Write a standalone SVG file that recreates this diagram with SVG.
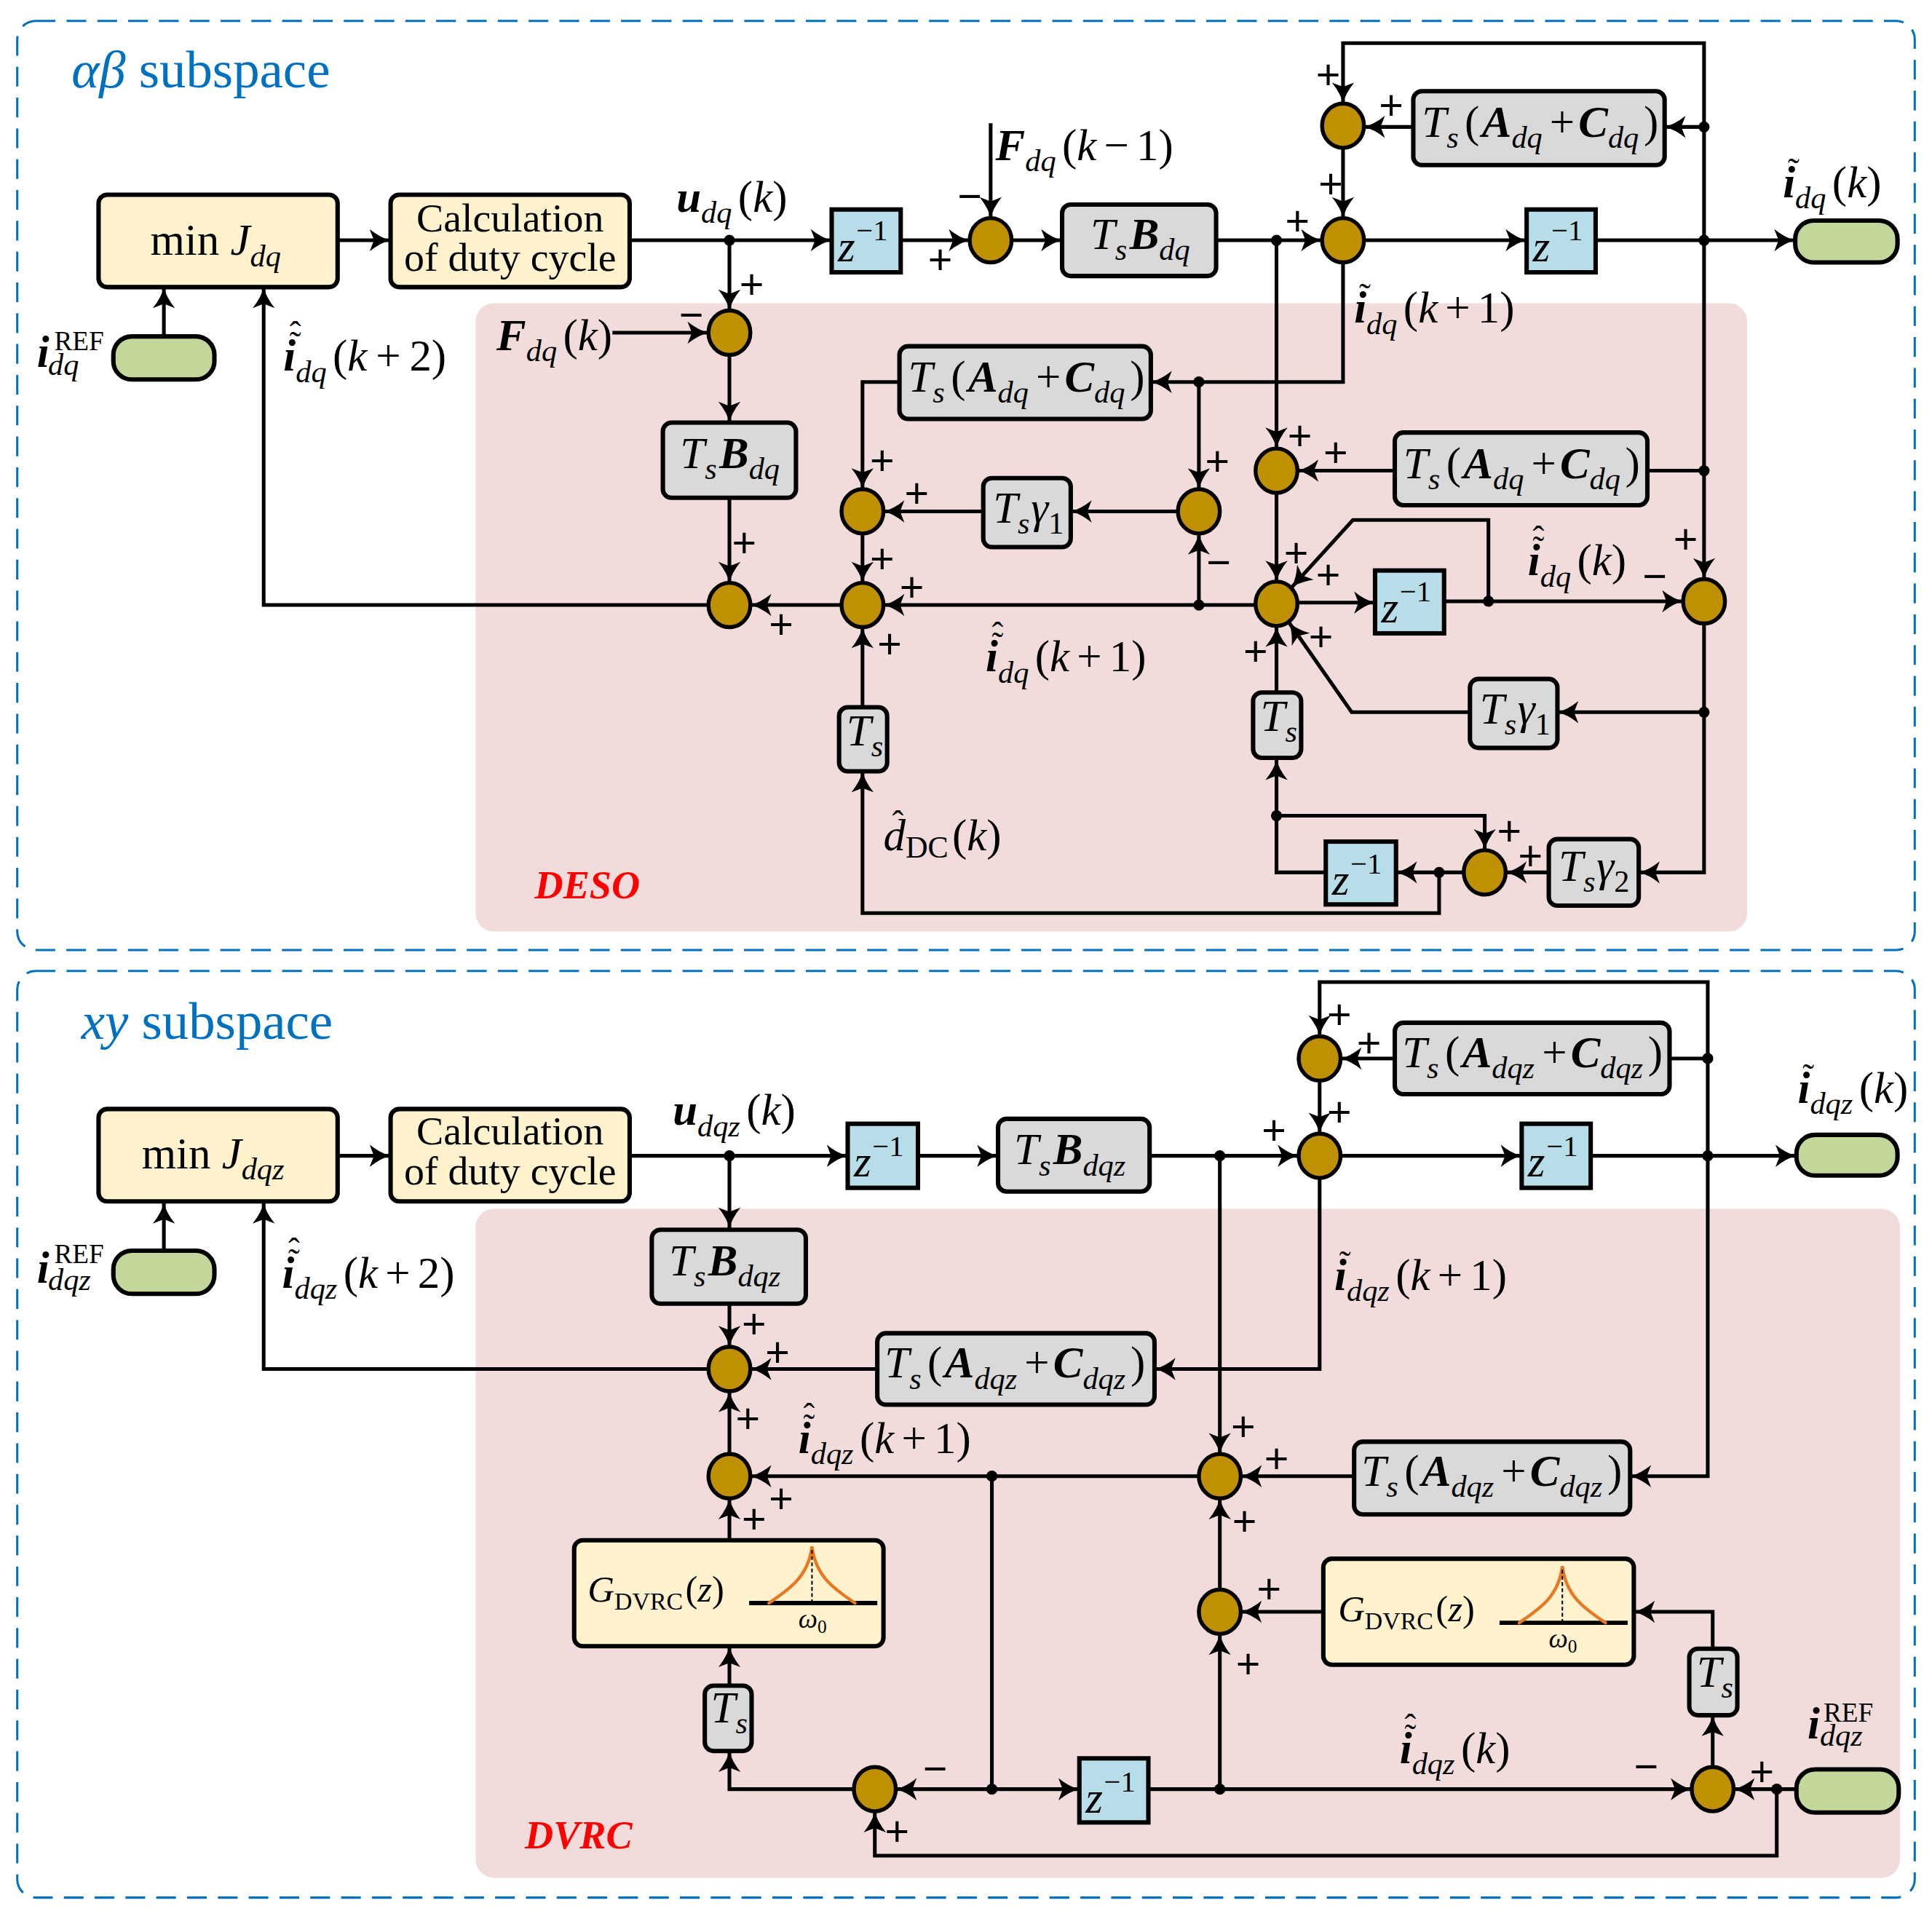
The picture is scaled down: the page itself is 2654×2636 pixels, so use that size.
<svg xmlns="http://www.w3.org/2000/svg" width="2654" height="2636" viewBox="0 0 2654 2636">
<defs>
<style>
text{font-family:"Liberation Serif","Times New Roman",serif;fill:#000}
.m{font-size:36px}
.i{font-style:italic}
.bi{font-style:italic;font-weight:bold}
.s{font-size:25px;font-style:italic}
.su{font-size:25px;font-style:normal}
.sup{font-size:24px;font-style:normal}
.pm{font-size:34px;text-anchor:middle;font-family:"Liberation Sans",Arial,sans-serif}
.acc{font-size:28px;font-style:normal;font-weight:normal}
.ttl{font-size:43px;fill:#0070C0}
.red{font-size:32px;font-style:italic;font-weight:bold;fill:#FF0000}
.g{font-size:30px}
.gs{font-size:20px}
.w{font-size:22px}
.ws{font-size:15px}
.cal{font-size:33px;text-anchor:middle}
.box{stroke:#000;stroke-width:3.6}
.yel{fill:#FFF2CC}
.gry{fill:#D9D9D9}
.blu{fill:#B7DEE8}
.grn{fill:#C4D79B}
.sum{fill:#BF9000;stroke:#000;stroke-width:3.2}
.dash{fill:none;stroke:#0070C0;stroke-width:1.8;stroke-dasharray:16 9}
.pink{fill:#F2DCDB}
#conn path{fill:none;stroke:#000;stroke-width:3}
#conn path.a{marker-end:url(#arr)}
.dot{fill:#000}
.pk{fill:none;stroke:#E87722;stroke-width:2.6;stroke-linecap:round}
</style>
<marker id="arr" markerUnits="userSpaceOnUse" markerWidth="18" markerHeight="18" refX="17" refY="9" orient="auto" overflow="visible">
<path d="M0,0 Q9,7.2 17,9 Q9,10.8 0,18 L3.5,9 Z" fill="#000"/>
</marker>
</defs>
<rect width="2654" height="2636" fill="#fff"/>
<g transform="scale(1.69260)">

<g id="frame-ab">
<rect class="dash" x="14" y="17" width="1540" height="754" rx="15"/>
<text class="ttl" x="58" y="71"><tspan class="i">αβ</tspan> subspace</text>
</g>
<g id="frame-xy">
<rect class="dash" x="14" y="788" width="1540" height="752" rx="15"/>
<text class="ttl" x="66" y="843"><tspan class="i">xy</tspan> subspace</text>
</g>
<g id="deso">
<rect class="pink" x="386" y="246" width="1032" height="510" rx="15"/>
<text class="red" x="434" y="729">DESO</text>
</g>
<g id="dvrc">
<rect class="pink" x="386" y="981" width="1156" height="543" rx="15"/>
<text class="red" x="426" y="1500">DVRC</text>
</g>

<g id="conn">
<path class="a" d="M274,195H317"/>
<path class="a" d="M511,195H675"/>
<path class="a" d="M731,195H787"/>
<path class="a" d="M804,100V177"/>
<path class="a" d="M821,195H862"/>
<path class="a" d="M987,195H1073"/>
<path class="a" d="M1107,195H1239"/>
<path class="a" d="M1295,195H1457"/>
<path class="a" d="M1383,195V35H1090V84"/>
<path class="a" d="M1383,103H1351"/>
<path class="a" d="M1147,103H1107"/>
<path class="a" d="M1090,120V177"/>
<path class="a" d="M1090,213V310H934"/>
<path class="a" d="M1036,195V364"/>
<path class="a" d="M1383,195V470"/>
<path class="a" d="M592,195V252"/>
<path class="a" d="M497,270H575"/>
<path class="a" d="M592,288V343"/>
<path class="a" d="M592,404V473"/>
<path class="a" d="M575,491H214V233"/>
<path class="a" d="M683,491H609"/>
<path class="a" d="M730,310H700V397"/>
<path class="a" d="M798,415H717"/>
<path class="a" d="M956,415H869"/>
<path class="a" d="M973,310V397"/>
<path class="a" d="M973,491V433"/>
<path class="a" d="M700,433V473"/>
<path class="a" d="M1019,491H717"/>
<path class="a" d="M700,574V509"/>
<path class="a" d="M1168,708V741H700V626"/>
<path class="a" d="M1132,382H1053"/>
<path d="M1337,382H1383"/>
<path class="a" d="M1036,400V472"/>
<path class="a" d="M1053,489H1116"/>
<path class="a" d="M1172,488H1366"/>
<path class="a" d="M1208,488V422H1098L1048,477"/>
<path class="a" d="M1383,506V708H1330"/>
<path class="a" d="M1383,578H1264"/>
<path class="a" d="M1193,578H1097L1046,505"/>
<path class="a" d="M1036,562V508"/>
<path class="a" d="M1076,708H1036V616"/>
<path class="a" d="M1036,662H1205V690"/>
<path class="a" d="M1257,708H1222"/>
<path class="a" d="M1188,708H1133"/>
<path class="a" d="M133,273V233"/>

<path class="a" d="M274,938H317"/>
<path class="a" d="M511,938H688"/>
<path class="a" d="M745,938H810"/>
<path class="a" d="M933,938H1054"/>
<path class="a" d="M1088,938H1235"/>
<path class="a" d="M1291,938H1458"/>
<path class="a" d="M1386,938V797H1071V841"/>
<path d="M1355,859H1386"/>
<path class="a" d="M1132,859H1088"/>
<path class="a" d="M1071,877V920"/>
<path class="a" d="M1071,956V1111H937"/>
<path class="a" d="M592,938V997"/>
<path class="a" d="M592,1058V1093"/>
<path class="a" d="M712,1111H609"/>
<path class="a" d="M575,1111H214V976"/>
<path class="a" d="M592,1180V1129"/>
<path class="a" d="M973,1198H609"/>
<path class="a" d="M592,1250V1216"/>
<path class="a" d="M592,1368V1336"/>
<path class="a" d="M693,1452H592V1421"/>
<path class="a" d="M805,1198V1452H727"/>
<path class="a" d="M805,1452H876"/>
<path class="a" d="M932,1452H1373"/>
<path class="a" d="M990,1452V1326"/>
<path class="a" d="M990,1290V1216"/>
<path class="a" d="M990,938V1180"/>
<path class="a" d="M1099,1198H1007"/>
<path class="a" d="M1386,938V1198H1323"/>
<path class="a" d="M1074,1308H1007"/>
<path class="a" d="M1390,1338V1308H1326"/>
<path class="a" d="M1390,1434V1392"/>
<path class="a" d="M1458,1452H1407"/>
<path class="a" d="M1442,1452V1506H710V1470"/>
<path class="a" d="M133,1015V976"/>
</g>

<g id="junctions" class="dot">
<circle cx="592" cy="195" r="4.5"/><circle cx="1036" cy="195" r="4.5"/><circle cx="1383" cy="195" r="4.5"/><circle cx="1383" cy="103" r="4.5"/>
<circle cx="973" cy="310" r="4.5"/><circle cx="973" cy="491" r="4.5"/><circle cx="1383" cy="382" r="4.5"/><circle cx="1208" cy="488" r="4.5"/>
<circle cx="1383" cy="578" r="4.5"/><circle cx="1036" cy="662" r="4.5"/><circle cx="1168" cy="708" r="4.5"/>
<circle cx="592" cy="938" r="4.5"/><circle cx="990" cy="938" r="4.5"/><circle cx="1386" cy="938" r="4.5"/><circle cx="1386" cy="859" r="4.5"/>
<circle cx="805" cy="1198" r="4.5"/><circle cx="805" cy="1452" r="4.5"/><circle cx="990" cy="1452" r="4.5"/><circle cx="1442" cy="1452" r="4.5"/>
</g>

<g id="minJdq"><rect class="box yel" x="80" y="158" width="194" height="75" rx="7"/>
<text class="m" x="122" y="207">min <tspan class="i">J</tspan><tspan class="s" dy="9">dq</tspan></text></g>
<g id="calc1"><rect class="box yel" x="317" y="158" width="194" height="75" rx="7"/>
<text class="cal" x="414" y="188">Calculation</text><text class="cal" x="414" y="220">of duty cycle</text></g>
<g id="irefdq"><rect class="box grn" x="92" y="273" width="82" height="35" rx="15"/>
<text class="m" x="30" y="298"><tspan class="bi">i</tspan><tspan class="su" x="44" y="284" style="font-size:22px">REF</tspan><tspan class="s" x="39" y="304">dq</tspan></text></g>
<g id="z1"><rect class="box blu" x="675" y="170" width="56" height="51"/>
<text class="m" x="680" y="212"><tspan class="i">z</tspan><tspan class="sup" dy="-17" dx="1">−1</tspan></text></g>
<g id="S1"><ellipse class="sum" cx="804" cy="195" rx="17" ry="18"/></g>
<g id="TsBdq1"><rect class="box gry" x="862" y="166" width="125" height="58" rx="7"/>
<text class="m" x="885" y="202"><tspan class="i">T</tspan><tspan class="s" dy="9">s</tspan><tspan class="bi" dy="-9" dx="2">B</tspan><tspan class="s" dy="9">dq</tspan></text></g>
<g id="S2"><ellipse class="sum" cx="1090" cy="195" rx="17" ry="18"/></g>
<g id="S3"><ellipse class="sum" cx="1090" cy="102" rx="17" ry="18"/></g>
<g id="TsAC1"><rect class="box gry" x="1147" y="74" width="204" height="60" rx="7"/>
<text class="m" x="1154" y="111"><tspan class="i">T</tspan><tspan class="s" dy="9">s</tspan><tspan dy="-9" dx="5">(</tspan><tspan class="bi" dx="2">A</tspan><tspan class="s" dy="9">dq</tspan><tspan dy="-9" dx="6">+</tspan><tspan class="bi" dx="3">C</tspan><tspan class="s" dy="9">dq</tspan><tspan dy="-9" dx="4">)</tspan></text></g>
<g id="z2"><rect class="box blu" x="1239" y="170" width="56" height="51"/>
<text class="m" x="1244" y="212"><tspan class="i">z</tspan><tspan class="sup" dy="-17" dx="1">−1</tspan></text></g>
<g id="outdq"><rect class="box grn" x="1457" y="179" width="83" height="34" rx="15"/></g>

<g id="S5"><ellipse class="sum" cx="592" cy="270" rx="17" ry="18"/></g>
<g id="TsBdq2"><rect class="box gry" x="538" y="343" width="108" height="61" rx="7"/>
<text class="m" x="552" y="380"><tspan class="i">T</tspan><tspan class="s" dy="9">s</tspan><tspan class="bi" dy="-9" dx="2">B</tspan><tspan class="s" dy="9">dq</tspan></text></g>
<g id="S6"><ellipse class="sum" cx="592" cy="491" rx="17" ry="18"/></g>
<g id="S7"><ellipse class="sum" cx="700" cy="491" rx="17" ry="18"/></g>
<g id="S8"><ellipse class="sum" cx="700" cy="415" rx="17" ry="18"/></g>
<g id="S9"><ellipse class="sum" cx="973" cy="415" rx="17" ry="18"/></g>
<g id="TsAC2"><rect class="box gry" x="730" y="281" width="204" height="59" rx="7"/>
<text class="m" x="737" y="318"><tspan class="i">T</tspan><tspan class="s" dy="9">s</tspan><tspan dy="-9" dx="5">(</tspan><tspan class="bi" dx="2">A</tspan><tspan class="s" dy="9">dq</tspan><tspan dy="-9" dx="6">+</tspan><tspan class="bi" dx="3">C</tspan><tspan class="s" dy="9">dq</tspan><tspan dy="-9" dx="4">)</tspan></text></g>
<g id="Tsg1a"><rect class="box gry" x="798" y="388" width="71" height="56" rx="7"/>
<text class="m" x="806" y="424"><tspan class="i">T</tspan><tspan class="s" dy="9">s</tspan><tspan class="i" dy="-9" dx="1">γ</tspan><tspan class="su" dy="9">1</tspan></text></g>
<g id="Ts1"><rect class="box gry" x="681" y="574" width="39" height="52" rx="7"/>
<text class="m" x="687" y="605"><tspan class="i">T</tspan><tspan class="s" dy="9">s</tspan></text></g>
<g id="S4"><ellipse class="sum" cx="1036" cy="382" rx="17" ry="18"/></g>
<g id="S10"><ellipse class="sum" cx="1036" cy="490" rx="17" ry="18"/></g>
<g id="S11"><ellipse class="sum" cx="1383" cy="488" rx="17" ry="18"/></g>
<g id="S12"><ellipse class="sum" cx="1205" cy="708" rx="17" ry="18"/></g>
<g id="TsAC3"><rect class="box gry" x="1132" y="351" width="205" height="59" rx="7"/>
<text class="m" x="1139" y="388"><tspan class="i">T</tspan><tspan class="s" dy="9">s</tspan><tspan dy="-9" dx="5">(</tspan><tspan class="bi" dx="2">A</tspan><tspan class="s" dy="9">dq</tspan><tspan dy="-9" dx="6">+</tspan><tspan class="bi" dx="3">C</tspan><tspan class="s" dy="9">dq</tspan><tspan dy="-9" dx="4">)</tspan></text></g>
<g id="z3"><rect class="box blu" x="1116" y="463" width="56" height="51"/>
<text class="m" x="1121" y="505"><tspan class="i">z</tspan><tspan class="sup" dy="-17" dx="1">−1</tspan></text></g>
<g id="Tsg1b"><rect class="box gry" x="1193" y="551" width="71" height="56" rx="7"/>
<text class="m" x="1201" y="587"><tspan class="i">T</tspan><tspan class="s" dy="9">s</tspan><tspan class="i" dy="-9" dx="1">γ</tspan><tspan class="su" dy="9">1</tspan></text></g>
<g id="Ts2"><rect class="box gry" x="1017" y="562" width="39" height="53" rx="7"/>
<text class="m" x="1023" y="593"><tspan class="i">T</tspan><tspan class="s" dy="9">s</tspan></text></g>
<g id="Tsg2"><rect class="box gry" x="1257" y="681" width="73" height="54" rx="7"/>
<text class="m" x="1265" y="715"><tspan class="i">T</tspan><tspan class="s" dy="9">s</tspan><tspan class="i" dy="-9" dx="1">γ</tspan><tspan class="su" dy="9">2</tspan></text></g>
<g id="z4"><rect class="box blu" x="1076" y="683" width="57" height="51"/>
<text class="m" x="1081" y="726"><tspan class="i">z</tspan><tspan class="sup" dy="-17" dx="1">−1</tspan></text></g>

<g id="minJdqz"><rect class="box yel" x="80" y="900" width="194" height="75" rx="7"/>
<text class="m" x="115" y="948">min <tspan class="i">J</tspan><tspan class="s" dy="9">dqz</tspan></text></g>
<g id="calc2"><rect class="box yel" x="317" y="900" width="194" height="75" rx="7"/>
<text class="cal" x="414" y="929">Calculation</text><text class="cal" x="414" y="961">of duty cycle</text></g>
<g id="irefdqz1"><rect class="box grn" x="92" y="1015" width="82" height="35" rx="15"/>
<text class="m" x="30" y="1041"><tspan class="bi">i</tspan><tspan class="su" x="44" y="1025" style="font-size:22px">REF</tspan><tspan class="s" x="39" y="1047">dqz</tspan></text></g>
<g id="z5"><rect class="box blu" x="688" y="912" width="57" height="52"/>
<text class="m" x="693" y="955"><tspan class="i">z</tspan><tspan class="sup" dy="-17" dx="1">−1</tspan></text></g>
<g id="TsBdqz1"><rect class="box gry" x="810" y="908" width="123" height="59" rx="7"/>
<text class="m" x="823" y="945"><tspan class="i">T</tspan><tspan class="s" dy="9">s</tspan><tspan class="bi" dy="-9" dx="2">B</tspan><tspan class="s" dy="9">dqz</tspan></text></g>
<g id="C2"><ellipse class="sum" cx="1071" cy="938" rx="17" ry="18"/></g>
<g id="C1"><ellipse class="sum" cx="1071" cy="859" rx="17" ry="18"/></g>
<g id="TsAC4"><rect class="box gry" x="1132" y="830" width="223" height="58" rx="7"/>
<text class="m" x="1138" y="866"><tspan class="i">T</tspan><tspan class="s" dy="9">s</tspan><tspan dy="-9" dx="5">(</tspan><tspan class="bi" dx="2">A</tspan><tspan class="s" dy="9">dqz</tspan><tspan dy="-9" dx="6">+</tspan><tspan class="bi" dx="3">C</tspan><tspan class="s" dy="9">dqz</tspan><tspan dy="-9" dx="4">)</tspan></text></g>
<g id="z6"><rect class="box blu" x="1235" y="912" width="56" height="52"/>
<text class="m" x="1240" y="955"><tspan class="i">z</tspan><tspan class="sup" dy="-17" dx="1">−1</tspan></text></g>
<g id="outdqz"><rect class="box grn" x="1458" y="921" width="82" height="33" rx="15"/></g>

<g id="TsBdqz2"><rect class="box gry" x="529" y="998" width="125" height="60" rx="7"/>
<text class="m" x="543" y="1035"><tspan class="i">T</tspan><tspan class="s" dy="9">s</tspan><tspan class="bi" dy="-9" dx="2">B</tspan><tspan class="s" dy="9">dqz</tspan></text></g>
<g id="C3"><ellipse class="sum" cx="592" cy="1111" rx="17" ry="18"/></g>
<g id="TsAC5"><rect class="box gry" x="712" y="1082" width="225" height="58" rx="7"/>
<text class="m" x="718" y="1118"><tspan class="i">T</tspan><tspan class="s" dy="9">s</tspan><tspan dy="-9" dx="5">(</tspan><tspan class="bi" dx="2">A</tspan><tspan class="s" dy="9">dqz</tspan><tspan dy="-9" dx="6">+</tspan><tspan class="bi" dx="3">C</tspan><tspan class="s" dy="9">dqz</tspan><tspan dy="-9" dx="4">)</tspan></text></g>
<g id="C4"><ellipse class="sum" cx="592" cy="1198" rx="17" ry="18"/></g>
<g id="C5"><ellipse class="sum" cx="990" cy="1198" rx="17" ry="18"/></g>
<g id="C6"><ellipse class="sum" cx="990" cy="1308" rx="17" ry="18"/></g>
<g id="C7"><ellipse class="sum" cx="710" cy="1452" rx="17" ry="18"/></g>
<g id="C8"><ellipse class="sum" cx="1390" cy="1452" rx="17" ry="18"/></g>
<g id="TsAC6"><rect class="box gry" x="1099" y="1170" width="224" height="59" rx="7"/>
<text class="m" x="1105" y="1206"><tspan class="i">T</tspan><tspan class="s" dy="9">s</tspan><tspan dy="-9" dx="5">(</tspan><tspan class="bi" dx="2">A</tspan><tspan class="s" dy="9">dqz</tspan><tspan dy="-9" dx="6">+</tspan><tspan class="bi" dx="3">C</tspan><tspan class="s" dy="9">dqz</tspan><tspan dy="-9" dx="4">)</tspan></text></g>
<g id="G1"><rect class="box yel" x="466" y="1250" width="251" height="86" rx="7"/>
<text class="g" x="477" y="1300"><tspan class="i">G</tspan><tspan class="gs" dy="6">DVRC</tspan><tspan dy="-6" dx="2">(</tspan><tspan class="i">z</tspan>)</text>
<path d="M608,1301H712" stroke="#000" stroke-width="3.5"/>
<path class="pk" d="M624,1301C640,1290 656,1280 659,1255C662,1280 678,1290 694,1301"/>
<path d="M659,1258V1300" stroke="#000" stroke-width="1.2" stroke-dasharray="3 2"/>
<text class="w" x="648" y="1321"><tspan class="i">ω</tspan><tspan class="ws" dy="4">0</tspan></text></g>
<g id="Ts3"><rect class="box gry" x="572" y="1368" width="38" height="53" rx="7"/>
<text class="m" x="577" y="1398"><tspan class="i">T</tspan><tspan class="s" dy="9">s</tspan></text></g>
<g id="z7"><rect class="box blu" x="876" y="1427" width="56" height="52"/>
<text class="m" x="881" y="1471"><tspan class="i">z</tspan><tspan class="sup" dy="-17" dx="1">−1</tspan></text></g>
<g id="G2"><rect class="box yel" x="1074" y="1265" width="252" height="86" rx="7"/>
<text class="g" x="1086" y="1316"><tspan class="i">G</tspan><tspan class="gs" dy="6">DVRC</tspan><tspan dy="-6" dx="2">(</tspan><tspan class="i">z</tspan>)</text>
<path d="M1217,1317H1321" stroke="#000" stroke-width="3.5"/>
<path class="pk" d="M1233,1317C1249,1306 1265,1296 1268,1271C1271,1296 1287,1306 1303,1317"/>
<path d="M1268,1274V1316" stroke="#000" stroke-width="1.2" stroke-dasharray="3 2"/>
<text class="w" x="1257" y="1337"><tspan class="i">ω</tspan><tspan class="ws" dy="4">0</tspan></text></g>
<g id="Ts4"><rect class="box gry" x="1371" y="1338" width="39" height="54" rx="7"/>
<text class="m" x="1377" y="1369"><tspan class="i">T</tspan><tspan class="s" dy="9">s</tspan></text></g>
<g id="irefdqz2"><rect class="box grn" x="1458" y="1436" width="83" height="35" rx="15"/>
<text class="m" x="1467" y="1411"><tspan class="bi">i</tspan><tspan class="su" x="1480" y="1397" style="font-size:22px">REF</tspan><tspan class="s" x="1477" y="1417">dqz</tspan></text></g>

<g id="labels">
<text class="m" x="549" y="172"><tspan class="bi">u</tspan><tspan class="s" dy="9">dq</tspan><tspan dy="-9" dx="5">(</tspan><tspan class="i">k</tspan>)</text>
<text class="m" x="808" y="130"><tspan class="bi">F</tspan><tspan class="s" dy="9">dq</tspan><tspan dy="-9" dx="5">(</tspan><tspan class="i">k</tspan><tspan dx="6">−</tspan><tspan dx="6">1</tspan>)</text>
<text class="m" x="1447" y="160"><tspan class="bi">i</tspan><tspan class="s" dy="9">dq</tspan><tspan dy="-9" dx="5">(</tspan><tspan class="i">k</tspan>)<tspan class="acc" x="1451" y="147">˜</tspan></text>
<text class="m" x="1099" y="262"><tspan class="bi">i</tspan><tspan class="s" dy="9">dq</tspan><tspan dy="-9" dx="5">(</tspan><tspan class="i">k</tspan><tspan dx="6">+</tspan><tspan dx="6">1</tspan>)<tspan class="acc" x="1103" y="249">˜</tspan></text>
<text class="m" x="230" y="301"><tspan class="bi">i</tspan><tspan class="s" dy="9">dq</tspan><tspan dy="-9" dx="5">(</tspan><tspan class="i">k</tspan><tspan dx="7">+</tspan><tspan dx="7">2</tspan>)<tspan class="acc" x="235" y="288">˜</tspan><tspan class="acc" x="235" y="280">ˆ</tspan></text>
<text class="m" x="403" y="284"><tspan class="bi">F</tspan><tspan class="s" dy="9">dq</tspan><tspan dy="-9" dx="5">(</tspan><tspan class="i">k</tspan>)</text>
<text class="m" x="800" y="545"><tspan class="bi">i</tspan><tspan class="s" dy="9">dq</tspan><tspan dy="-9" dx="5">(</tspan><tspan class="i">k</tspan><tspan dx="6">+</tspan><tspan dx="6">1</tspan>)<tspan class="acc" x="805" y="532">˜</tspan><tspan class="acc" x="805" y="524">ˆ</tspan></text>
<text class="m" x="717" y="690"><tspan class="i">d</tspan><tspan class="su" dy="6">DC</tspan><tspan dy="-6" dx="3">(</tspan><tspan class="i">k</tspan>)<tspan class="acc" x="724" y="677">ˆ</tspan></text>
<text class="m" x="1240" y="467"><tspan class="bi">i</tspan><tspan class="s" dy="9">dq</tspan><tspan dy="-9" dx="5">(</tspan><tspan class="i">k</tspan>)<tspan class="acc" x="1244" y="454">˜</tspan><tspan class="acc" x="1244" y="446">ˆ</tspan></text>

<text class="m" x="546" y="913"><tspan class="bi">u</tspan><tspan class="s" dy="9">dqz</tspan><tspan dy="-9" dx="5">(</tspan><tspan class="i">k</tspan>)</text>
<text class="m" x="229" y="1045"><tspan class="bi">i</tspan><tspan class="s" dy="9">dqz</tspan><tspan dy="-9" dx="5">(</tspan><tspan class="i">k</tspan><tspan dx="6">+</tspan><tspan dx="6">2</tspan>)<tspan class="acc" x="234" y="1032">˜</tspan><tspan class="acc" x="234" y="1024">ˆ</tspan></text>
<text class="m" x="1459" y="895"><tspan class="bi">i</tspan><tspan class="s" dy="9">dqz</tspan><tspan dy="-9" dx="5">(</tspan><tspan class="i">k</tspan>)<tspan class="acc" x="1463" y="882">˜</tspan></text>
<text class="m" x="1083" y="1047"><tspan class="bi">i</tspan><tspan class="s" dy="9">dqz</tspan><tspan dy="-9" dx="5">(</tspan><tspan class="i">k</tspan><tspan dx="6">+</tspan><tspan dx="6">1</tspan>)<tspan class="acc" x="1087" y="1034">˜</tspan></text>
<text class="m" x="648" y="1179"><tspan class="bi">i</tspan><tspan class="s" dy="9">dqz</tspan><tspan dy="-9" dx="5">(</tspan><tspan class="i">k</tspan><tspan dx="6">+</tspan><tspan dx="6">1</tspan>)<tspan class="acc" x="652" y="1166">˜</tspan><tspan class="acc" x="652" y="1158">ˆ</tspan></text>
<text class="m" x="1136" y="1431"><tspan class="bi">i</tspan><tspan class="s" dy="9">dqz</tspan><tspan dy="-9" dx="5">(</tspan><tspan class="i">k</tspan>)<tspan class="acc" x="1140" y="1418">˜</tspan><tspan class="acc" x="1140" y="1410">ˆ</tspan></text>
</g>

<g id="signs">
<text class="pm" x="763" y="222">+</text><text class="pm" x="787" y="171">−</text>
<text class="pm" x="610" y="242">+</text><text class="pm" x="561" y="267">−</text>
<text class="pm" x="1053" y="191">+</text><text class="pm" x="1080" y="161">+</text><text class="pm" x="1078" y="72">+</text><text class="pm" x="1129" y="97">+</text>
<text class="pm" x="604" y="452">+</text><text class="pm" x="634" y="518">+</text><text class="pm" x="716" y="385">+</text><text class="pm" x="744" y="412">+</text>
<text class="pm" x="716" y="465">+</text><text class="pm" x="740" y="488">+</text><text class="pm" x="722" y="534">+</text>
<text class="pm" x="988" y="386">+</text><text class="pm" x="989" y="468">−</text>
<text class="pm" x="1055" y="365">+</text><text class="pm" x="1084" y="379">+</text>
<text class="pm" x="1052" y="460">+</text><text class="pm" x="1078" y="478">+</text><text class="pm" x="1019" y="540">+</text><text class="pm" x="1072" y="528">+</text>
<text class="pm" x="1368" y="449">+</text><text class="pm" x="1343" y="479">−</text>
<text class="pm" x="1225" y="686">+</text><text class="pm" x="1242" y="706">+</text>

<text class="pm" x="1087" y="835">+</text><text class="pm" x="1111" y="858">+</text><text class="pm" x="1087" y="914">+</text><text class="pm" x="1034" y="929">+</text>
<text class="pm" x="612" y="1086">+</text><text class="pm" x="631" y="1109">+</text><text class="pm" x="607" y="1163">+</text>
<text class="pm" x="634" y="1228">+</text><text class="pm" x="612" y="1244">+</text>
<text class="pm" x="1009" y="1169">+</text><text class="pm" x="1036" y="1195">+</text><text class="pm" x="1010" y="1246">+</text><text class="pm" x="1030" y="1301">+</text><text class="pm" x="1013" y="1362">+</text>
<text class="pm" x="759" y="1447">−</text><text class="pm" x="728" y="1498">+</text>
<text class="pm" x="1336" y="1445">−</text><text class="pm" x="1430" y="1449">+</text>
</g>
</g>
</svg>
